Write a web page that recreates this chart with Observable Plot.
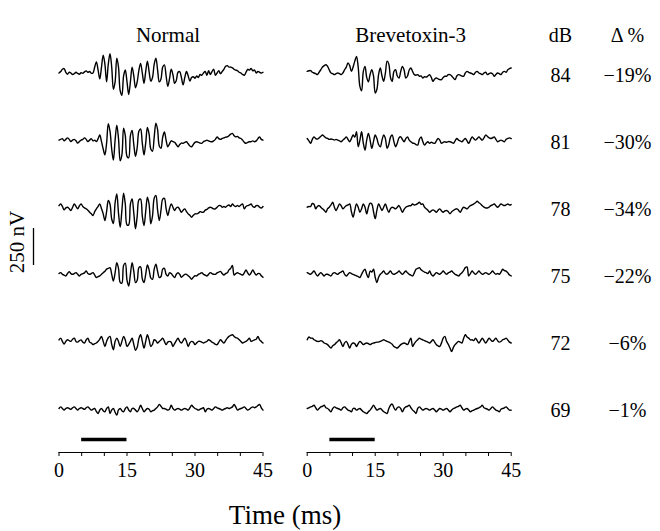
<!DOCTYPE html>
<html>
<head>
<meta charset="utf-8">
<script src="https://cdn.jsdelivr.net/npm/d3@7"></script>
<script src="https://cdn.jsdelivr.net/npm/@observablehq/plot@0.6"></script>
<style>
  html, body { margin: 0; padding: 0; background: #fff; }
  body { font-family: "Liberation Serif", "Times New Roman", serif; color: #000; }
  #chart { width: 660px; height: 500px; }
  #caption { width: 570px; height: 31px; line-height: 31px; font-size: 27px; text-align: center; }
</style>
</head>
<body>
<div id="chart"></div>
<div id="caption">Time (ms)</div>
<script>
// ---------------- data ----------------
const groups = ["Normal", "Brevetoxin-3"];
const levels = [84, 81, 78, 75, 72, 69];          // dB
const deltas = ["−19%", "−30%", "−34%", "−22%", "−6%", "−1%"];
const xTicks = [0, 5, 10, 15, 20, 25, 30, 35, 40, 45];
const xLabels = [0, 15, 30, 45];
const stimulus = [5, 15];                          // ms
const scaleBarNV = 250;                            // nV
const sampleStep = 0.375;                          // ms between samples

// amplitudes (nV), one sample per 0.375 ms
const normal84 = [0,10,25,30,5,-8,5,0,-10,-5,5,-3,-8,2,-2,8,14,5,10,-2,0,40,75,20,-40,40,120,60,-60,60,130,40,-110,-60,100,40,-120,-150,-20,20,-60,-145,-60,40,-20,-100,-60,20,65,0,-70,10,80,10,-55,-30,60,100,20,-60,-40,40,55,-20,-90,-40,25,-10,-70,-50,5,10,-30,-80,-30,10,-20,-55,-30,-25,-35,-20,-30,-10,-15,0,10,-15,15,-10,10,25,-15,0,15,-5,10,25,45,50,40,40,35,25,20,15,5,0,-10,-15,5,25,20,30,15,20,0,10,5,0,5];
const normal81 = [0,5,10,-5,5,15,5,-10,0,5,-5,-20,-10,0,5,15,5,-10,0,10,-5,0,-10,10,35,-10,-60,-100,-20,110,60,-60,-135,0,100,10,-140,-100,80,30,-110,-120,30,65,-30,-110,-50,60,75,-20,-100,-20,85,40,-60,-75,20,115,70,-40,-55,20,55,0,-45,-25,-5,-10,-15,-30,-45,-30,-20,-22,-15,-11,-25,-40,-45,-30,-15,-11,-15,-20,-22,-10,-5,0,-5,-10,-11,-5,5,22,10,5,11,15,20,22,30,40,45,30,22,25,15,11,0,-15,-22,-15,-11,-11,-5,-11,-5,10,22,5,0];
const normal78 = [10,22,5,-18,-5,0,-10,-22,0,22,5,-11,10,22,5,-5,-11,-20,-34,-45,-56,-30,-11,5,22,-10,-45,-90,-30,45,20,-80,-110,30,90,-40,-135,-20,95,20,-120,-120,20,55,-40,-146,-60,50,55,-60,-124,-30,68,20,-112,-60,60,79,-20,-90,-20,55,60,-10,-56,-10,22,0,-22,-5,0,-15,-34,-20,-11,-30,-45,-55,-68,-55,-45,-45,-40,-30,-34,-34,-20,-15,-5,0,-5,-11,-11,0,11,11,0,5,0,10,15,5,22,10,5,11,5,15,22,-11,5,11,15,22,5,0,10,11,0,-5,5];
const normal75 = [5,11,0,-5,-11,5,18,5,0,5,11,0,-11,0,4,10,22,5,0,5,11,-5,-22,-15,-11,0,11,20,35,40,45,0,-45,10,79,40,-55,-60,60,75,-40,-79,0,79,20,-56,-40,45,50,-30,-56,0,63,30,-25,-34,35,68,20,-22,-15,35,40,0,-11,10,5,-10,-22,0,10,0,-20,-10,0,0,-10,-20,-34,-20,-10,-11,0,5,11,0,-5,-11,0,11,5,0,0,10,15,20,5,-5,5,10,30,40,60,-5,5,10,5,0,-5,10,30,10,-5,10,30,10,-5,5,5,-10,-20];
const normal72 = [10,22,0,-18,0,11,5,0,15,22,0,-5,5,10,-5,-11,10,22,-5,-11,-22,-15,-11,0,15,34,0,-34,0,25,34,-20,-56,0,22,0,-34,0,34,10,-34,-20,0,22,-20,-60,-40,20,45,0,-45,0,45,10,-34,-20,11,5,-11,0,10,22,0,-22,-5,0,-5,-34,-15,5,22,0,-11,5,22,0,-34,-10,0,-5,-22,-10,0,0,-5,-11,-5,0,11,5,-5,-11,-20,-22,-5,11,0,-11,5,22,34,40,45,34,25,22,11,0,-11,-5,0,10,22,0,5,11,15,34,10,0,-11];
const normal69 = [0,11,0,-11,0,5,0,-5,5,11,0,-11,0,5,0,-5,5,11,0,-11,-5,0,-20,-34,-10,0,-15,-22,0,11,-34,-10,0,-25,-45,-10,0,-15,-22,0,11,-10,-22,0,0,-11,-22,-5,22,0,-22,-10,0,-5,-22,-15,-11,0,11,27,15,0,0,-5,-11,-5,22,0,-11,-5,0,-5,-11,-5,0,-5,-11,5,22,10,0,-5,-11,-5,0,5,-22,-5,0,-5,-11,0,11,5,0,-5,-11,-5,0,5,0,5,11,27,10,-11,-5,0,5,11,0,-11,-5,5,11,5,11,20,27,5,-11];
const brev84 = [11,15,16,5,0,-5,-11,5,22,40,50,56,45,20,0,-5,-11,-5,0,-5,-11,0,22,40,68,50,11,40,80,112,40,-90,-120,10,45,-30,-60,-10,22,-20,-135,-110,-10,34,-20,-56,0,80,60,-30,-56,10,22,-20,-34,10,45,20,-34,-20,20,34,10,-11,-15,-11,-22,-20,-34,-25,-28,-20,-11,-30,-56,-40,-34,-40,-45,-45,-30,-22,-22,-11,-11,-20,-34,-45,-20,-11,-15,-20,-22,0,11,5,0,-5,-11,5,11,0,-5,-11,0,5,-11,-5,0,-5,-22,-10,0,-5,-11,5,11,5,22,30,34];
const brev81 = [11,-5,-22,5,22,10,7,15,25,34,25,15,11,5,7,5,0,5,0,-5,-11,0,10,22,5,-11,10,34,20,56,-45,0,56,-20,-68,0,45,0,-56,-10,34,10,-30,-45,0,34,10,-56,-30,20,34,-10,-45,-20,15,22,5,-11,10,22,0,-11,-20,-22,-30,-34,5,22,-10,-34,-20,-11,-22,-15,-20,-22,-5,11,0,-22,-15,-11,-15,-10,-11,-15,-22,-5,11,0,-5,-11,0,11,-5,-22,0,22,10,0,10,22,10,0,15,34,25,15,11,15,22,5,-11,-5,0,-5,-11,5,11,15,10];
const brev78 = [0,5,4,25,20,-11,5,11,0,-11,-20,-34,-10,0,15,34,0,-22,0,22,10,-11,0,11,15,22,-30,-68,-20,22,0,-34,-10,22,0,-45,0,27,22,-30,-78,-20,22,0,-22,0,22,-10,-34,-10,0,-5,-11,0,11,-10,-34,-15,0,5,10,11,22,15,18,25,34,20,22,0,-11,-20,-34,-25,-18,-25,-34,-20,-11,-25,-34,-25,-22,-30,-45,-30,-22,-15,-11,-20,-34,-15,0,-5,-11,0,11,15,22,30,40,30,22,10,0,-5,-5,0,11,15,22,10,0,10,22,15,11,15,22,15,18];
const brev75 = [11,5,0,11,22,5,-11,0,11,0,-11,0,0,-5,-11,5,11,5,0,10,15,22,0,-11,0,11,5,0,-5,-11,-15,-22,0,22,34,0,-22,22,15,34,-20,-56,-20,0,11,22,5,0,11,22,5,0,5,11,22,10,0,11,22,10,0,-5,-11,10,34,40,45,30,22,15,11,5,22,0,-11,0,11,5,0,10,22,10,0,10,15,22,10,0,-5,-11,0,11,25,45,50,-11,5,22,10,0,10,22,10,0,5,11,5,0,10,22,10,0,5,0,15,34,25,22,10,-5,-11];
const brev72 = [11,30,22,22,11,5,0,0,5,0,-11,-15,-22,-34,-45,-30,-22,-10,0,11,-10,-34,-10,0,-20,-45,-20,-11,-15,-34,-15,0,-10,-22,-15,-11,-15,-22,-15,-11,-8,-5,-5,0,5,11,5,0,-5,-11,-20,-34,-40,-45,-34,-22,-15,-11,-15,-22,0,22,-34,-15,0,11,22,15,11,5,0,-5,-11,0,11,-5,-22,-30,-34,-10,22,34,0,-20,-45,-68,-40,-22,-10,0,-5,-11,20,45,30,22,10,11,5,22,5,-11,5,22,5,-11,5,22,10,0,10,22,5,-5,0,11,15,22,10,-5,-11];
const brev69 = [0,5,11,15,22,5,-11,0,11,15,22,5,0,-11,-22,0,11,5,0,-5,-11,5,11,0,-11,-15,-22,0,0,-11,-5,0,-11,-22,-28,-34,-22,-11,5,22,5,-11,-5,0,-10,-22,-28,-34,0,22,30,5,-11,5,11,0,-22,0,11,15,22,5,-11,-20,-34,0,11,0,-11,-5,0,-5,-11,-5,0,-10,-22,-10,0,-5,-11,-5,0,-10,-22,-10,0,5,11,15,22,5,-11,-5,0,-10,-22,-15,-11,-5,0,5,11,22,5,0,-5,-11,0,11,0,-11,-15,-22,-5,0,5,11,0,-11,-11];

const traces = {
  "Normal": [normal84, normal81, normal78, normal75, normal72, normal69],
  "Brevetoxin-3": [brev84, brev81, brev78, brev75, brev72, brev69]
};

// ---------------- layout ----------------
const W = 660, H = 500, MT = 45, MB = 48, ML = 58.5, MR = 149.3;
const NV_PER_PX = 250 / 37;
const FIRST_ROW_PX = 72.5, ROW_PX = 67.1;
const yTop = (FIRST_ROW_PX - MT) * NV_PER_PX;
const yBottom = yTop - (H - MB - MT) * NV_PER_PX;
const rowNV = i => -i * ROW_PX * NV_PER_PX;
const pxToNV = p => yTop - (p - MT) * NV_PER_PX;
const FONT = "Liberation Serif, Times New Roman, serif";

const rows = [];
for (const g of groups) {
  traces[g].forEach((arr, i) => {
    arr.forEach((v, k) => rows.push({group: g, key: g + levels[i], t: k * sampleStep, y: v + rowNV(i)}));
  });
}

const barBottom = pxToNV(265);

const chart = Plot.plot({
  width: W, height: H,
  marginTop: MT, marginBottom: MB, marginLeft: ML, marginRight: MR,
  style: {fontFamily: FONT, fontSize: "20px", color: "#000", background: "#fff", overflow: "visible"},
  fx: {domain: groups, axis: null, paddingInner: 0.1781, paddingOuter: 0, round: false},
  x: {domain: [0, 45], axis: null},
  y: {domain: [yBottom, yTop], axis: null},
  marks: [
    Plot.ruleY([yBottom], {y: d => d, stroke: "#000", strokeWidth: 1}),
    Plot.axisX({ticks: xTicks, tickSize: 4, tickPadding: 6,
      tickFormat: d => xLabels.includes(d) ? String(d) : "", fontSize: 20, label: null}),
    Plot.ruleY([stimulus], {x1: d => d[0], x2: d => d[1], y: () => pxToNV(439), stroke: "#000", strokeWidth: 3.5}),
    Plot.line(rows, {x: "t", y: "y", z: "key", fx: "group", stroke: "#000", strokeWidth: 1.4, strokeLinejoin: "round", curve: "catmull-rom"}),
    // panel titles
    Plot.text([groups[0]], {fx: () => groups[0], text: d => d, frameAnchor: "top", dy: -18, dx: 7, fontSize: 21}),
    Plot.text([groups[1]], {fx: () => groups[1], text: d => d, frameAnchor: "top", dy: -18, dx: 1.5, fontSize: 21}),
    // column headers
    Plot.text(["dB"], {fx: () => groups[1], text: d => d, frameAnchor: "top-right", dy: -18, dx: 49.3, fontSize: 20, textAnchor: "middle"}),
    Plot.text(["Δ %"], {fx: () => groups[1], text: d => d, frameAnchor: "top-right", dy: -18, dx: 116.3, fontSize: 20, textAnchor: "middle"}),
    // row labels
    Plot.text(levels, {fx: () => groups[1], y: (d, i) => rowNV(i), text: d => String(d), frameAnchor: "right", dx: 49.3, dy: 2.5, fontSize: 20, textAnchor: "middle"}),
    Plot.text(deltas, {fx: () => groups[1], y: (d, i) => rowNV(i), text: d => d, frameAnchor: "right", dx: 116.3, dy: 2.5, fontSize: 20, textAnchor: "middle"}),
    // scale bar
    Plot.ruleX([scaleBarNV], {fx: () => groups[0], x: () => 0, y1: () => barBottom, y2: d => barBottom + d, dx: -25.5, stroke: "#000", strokeWidth: 1.3}),
    Plot.text([scaleBarNV + " nV"], {fx: () => groups[0], x: () => 0, y: () => barBottom + scaleBarNV / 2 + 5 * NV_PER_PX, text: d => d, rotate: -90, dx: -41.5, fontSize: 21})
  ]
});
document.getElementById("chart").appendChild(chart);
</script>
</body>
</html>
